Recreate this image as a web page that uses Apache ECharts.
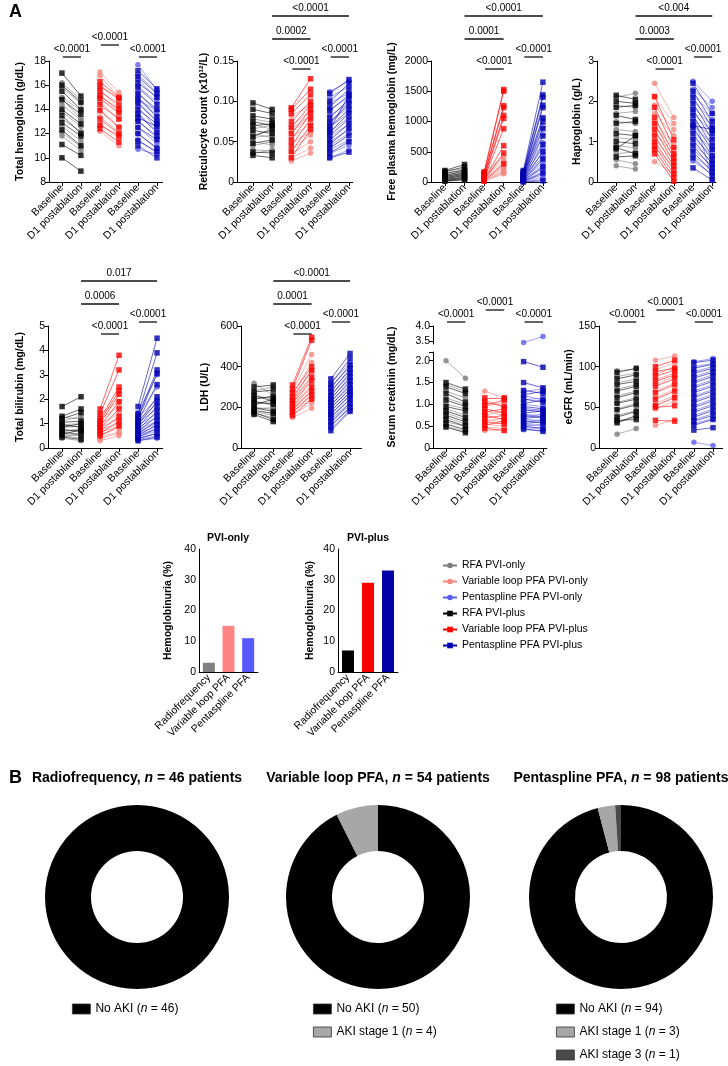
<!DOCTYPE html>
<html>
<head>
<meta charset="utf-8">
<script src="https://cdn.jsdelivr.net/npm/echarts@6/dist/echarts.min.js"></script>
<style>
  html, body { margin: 0; padding: 0; background: #fff; }
  #main { width: 728px; height: 1066px; }
</style>
</head>
<body>
<div id="main"></div>
<script>
// ---- data ----
const pairCats = ['Baseline', 'D1 postablation', 'Baseline', 'D1 postablation', 'Baseline', 'D1 postablation'];
const barCats = ['Radiofrequency', 'Variable loop PFA', 'Pentaspline PFA'];
const legendNames = ['RFA PVI-only', 'Variable loop PFA PVI-only', 'Pentaspline PFA PVI-only',
  'RFA PVI-plus', 'Variable loop PFA PVI-plus', 'Pentaspline PFA PVI-plus'];

// pairs are [baseline, D1 postablation]
const hgbRfaOnly = [[16.2,14.8],[15.8,14.5],[15.0,13.9],[14.4,13.1],[13.8,12.6],[13.2,12.2],[12.6,11.4],[12.1,10.9],[11.8,10.6],[14.9,13.2]];
const hgbRfaPlus = [[17.0,15.1],[16.0,14.6],[15.5,14.0],[14.8,13.6],[14.0,12.8],[13.5,12.0],[12.9,11.8],[12.3,11.0],[11.1,10.2],[10.0,8.9]];
const hgbVlOnly = [[17.1,15.4],[16.8,15.0],[16.0,14.8],[15.2,13.8],[14.6,13.2],[14.0,12.6],[13.4,12.1],[12.8,11.6],[12.2,11.0],[15.6,14.1]];
const hgbVlPlus = [[16.3,15.0],[15.9,14.9],[15.5,14.4],[14.9,13.7],[14.4,13.2],[13.9,12.5],[13.2,12.0],[12.7,11.8],[12.4,11.3],[15.1,14.0]];
const hgbPsOnly = [[17.7,15.6],[16.9,15.4],[16.5,14.9],[15.9,14.6],[15.4,13.8],[15.0,13.5],[14.6,13.1],[14.2,12.4],[13.7,12.2],[13.1,11.6],[12.5,11.2],[12.0,10.8],[11.5,10.4],[10.7,10.3],[14.8,13.9]];
const hgbPsPlus = [[17.2,15.7],[16.7,15.3],[16.2,15.0],[15.8,14.4],[15.3,14.0],[14.9,13.4],[14.5,13.0],[14.0,12.8],[13.6,12.1],[13.0,11.8],[12.5,11.5],[12.0,10.8],[11.4,10.5],[11.0,10.0],[13.3,12.6]];

const reticRfaOnly = [[0.072,0.065],[0.066,0.070],[0.060,0.055],[0.055,0.058],[0.050,0.046],[0.045,0.050],[0.040,0.038],[0.035,0.040],[0.078,0.074],[0.058,0.064]];
const reticRfaPlus = [[0.098,0.090],[0.090,0.085],[0.082,0.078],[0.075,0.070],[0.070,0.072],[0.064,0.060],[0.056,0.066],[0.048,0.052],[0.037,0.036],[0.033,0.030]];
const reticVlOnly = [[0.082,0.095],[0.070,0.088],[0.062,0.080],[0.055,0.072],[0.048,0.062],[0.040,0.058],[0.035,0.050],[0.030,0.042],[0.026,0.036],[0.066,0.082]];
const reticVlPlus = [[0.092,0.128],[0.090,0.115],[0.085,0.108],[0.075,0.100],[0.068,0.095],[0.060,0.090],[0.052,0.085],[0.045,0.078],[0.038,0.070],[0.030,0.065]];
const reticPsOnly = [[0.112,0.125],[0.105,0.118],[0.098,0.110],[0.090,0.105],[0.082,0.098],[0.075,0.092],[0.068,0.086],[0.062,0.080],[0.056,0.072],[0.050,0.065],[0.045,0.060],[0.040,0.052],[0.035,0.046],[0.030,0.040],[0.072,0.100]];
const reticPsPlus = [[0.110,0.127],[0.100,0.122],[0.093,0.115],[0.088,0.108],[0.080,0.102],[0.074,0.096],[0.068,0.090],[0.062,0.085],[0.058,0.078],[0.052,0.072],[0.047,0.066],[0.042,0.058],[0.036,0.050],[0.030,0.037],[0.065,0.108]];

const fphbRfaOnly = [[180,220],[150,190],[120,160],[100,140],[80,120],[60,100],[45,90],[30,70],[20,50],[10,35]];
const fphbRfaPlus = [[190,290],[170,250],[140,200],[110,180],[90,150],[70,130],[55,110],[40,80],[25,60],[15,40]];
const fphbVlOnly = [[160,420],[140,380],[120,330],[100,290],[80,250],[60,220],[45,190],[30,170],[20,150],[10,135]];
const fphbVlPlus = [[170,1530],[150,1500],[130,1260],[110,1230],[90,1100],[70,1050],[55,880],[40,600],[25,480],[15,300]];
const fphbPsOnly = [[180,1050],[160,900],[140,780],[120,650],[100,560],[85,480],[70,420],[60,380],[50,320],[40,270],[30,220],[20,170],[15,120],[10,80],[5,40]];
const fphbPsPlus = [[190,1650],[170,1440],[150,1400],[130,1270],[115,1230],[100,1060],[90,990],[75,880],[60,760],[50,620],[40,500],[30,380],[20,250],[10,150],[0,20]];

const haptoRfaOnly = [[2.10,2.20],[1.90,1.85],[1.70,1.75],[1.50,1.45],[1.30,1.25],[1.10,1.05],[0.90,0.85],[0.70,0.75],[0.55,0.45],[0.40,0.32]];
const haptoRfaPlus = [[2.15,2.05],[2.00,1.95],[1.85,1.90],[1.65,1.55],[1.45,1.50],[1.20,1.15],[1.00,0.95],[0.85,0.70],[0.82,1.15],[0.62,0.65]];
const haptoVlOnly = [[2.45,1.60],[2.10,1.45],[1.90,1.30],[1.70,1.15],[1.50,0.95],[1.35,0.85],[1.20,0.70],[1.05,0.55],[0.85,0.40],[0.50,0.20]];
const haptoVlPlus = [[2.12,1.05],[1.85,0.85],[1.60,0.70],[1.45,0.60],[1.30,0.50],[1.15,0.40],[1.00,0.30],[0.90,0.20],[0.80,0.10],[0.70,0.02]];
const haptoPsOnly = [[2.50,2.00],[2.30,1.85],[2.15,1.70],[2.00,1.55],[1.85,1.40],[1.70,1.25],[1.55,1.10],[1.40,0.95],[1.25,0.80],[1.10,0.65],[0.95,0.50],[0.80,0.40],[0.65,0.30],[0.52,0.20],[1.75,0.05]];
const haptoPsPlus = [[2.45,1.70],[2.25,1.50],[2.10,1.35],[1.95,1.20],[1.80,1.05],[1.65,0.90],[1.50,0.80],[1.35,0.65],[1.20,0.55],[1.05,0.45],[0.90,0.35],[0.75,0.25],[0.60,0.15],[0.35,0.05],[1.40,1.30]];

const biliRfaOnly = [[1.25,1.20],[1.10,1.30],[0.95,1.00],[0.85,0.90],[0.75,0.65],[0.65,0.80],[0.55,0.50],[0.50,0.40],[0.45,0.60],[0.40,0.30]];
const biliRfaPlus = [[1.70,2.10],[1.30,1.60],[1.20,1.45],[1.05,1.10],[0.95,0.85],[0.85,1.00],[0.75,0.70],[0.65,0.55],[0.55,0.75],[0.45,0.35]];
const biliVlOnly = [[1.40,1.90],[1.20,1.70],[1.00,1.40],[0.85,1.20],[0.75,1.00],[0.65,0.90],[0.55,0.80],[0.45,0.65],[0.40,0.60],[0.30,0.50]];
const biliVlPlus = [[1.60,3.80],[1.40,3.20],[1.20,2.50],[1.10,2.35],[1.00,2.20],[0.90,1.90],[0.80,1.60],[0.70,1.30],[0.60,1.10],[0.50,0.90]];
const biliPsOnly = [[1.45,3.00],[1.35,2.50],[1.25,2.00],[1.15,1.80],[1.05,1.60],[0.95,1.40],[0.85,1.25],[0.75,1.10],[0.68,1.00],[0.60,0.90],[0.52,0.80],[0.45,0.70],[0.40,0.60],[0.35,0.50],[0.30,0.40]];
const biliPsPlus = [[1.70,4.50],[1.40,3.90],[1.30,3.20],[1.20,3.05],[1.10,2.60],[1.00,2.10],[0.95,1.90],[0.85,1.70],[0.75,1.50],[0.68,1.30],[0.60,1.10],[0.52,0.95],[0.45,0.80],[0.38,0.60],[0.30,0.45]];

const ldhRfaOnly = [[318,260],[280,300],[260,240],[245,250],[230,210],[215,225],[200,190],[190,200],[180,160],[170,150]];
const ldhRfaPlus = [[300,310],[275,285],[258,230],[240,255],[228,215],[212,240],[198,180],[185,170],[175,140],[165,130]];
const ldhVlOnly = [[280,460],[260,420],[240,380],[225,340],[210,310],[200,280],[190,260],[180,240],[165,220],[150,195]];
const ldhVlPlus = [[310,545],[290,530],[270,400],[250,380],[235,350],[220,330],[205,300],[190,280],[175,260],[160,240]];
const ldhPsOnly = [[320,420],[300,400],[280,380],[260,360],[245,340],[230,320],[215,300],[200,290],[185,270],[170,255],[155,240],[140,225],[125,210],[110,195],[95,185]];
const ldhPsPlus = [[340,465],[315,440],[295,410],[275,390],[258,370],[240,350],[225,330],[210,310],[195,290],[180,275],[165,260],[150,240],[130,220],[110,200],[85,180]];

const creatRfaOnly = [[2.00,1.60],[1.45,1.30],[1.30,1.15],[1.15,1.00],[1.00,0.90],[0.90,0.75],[0.80,0.65],[0.70,0.55],[0.60,0.50],[0.50,0.38]];
const creatRfaPlus = [[1.50,1.35],[1.40,1.25],[1.25,1.05],[1.10,0.95],[0.95,0.85],[0.85,0.70],[0.75,0.60],[0.65,0.50],[0.55,0.42],[0.48,0.35]];
const creatVlOnly = [[1.30,1.15],[1.10,0.95],[0.95,1.05],[0.85,0.75],[0.75,0.85],[0.65,0.60],[0.60,0.70],[0.55,0.50],[0.48,0.45],[0.40,0.42]];
const creatVlPlus = [[1.15,1.15],[1.05,0.95],[0.98,1.10],[0.90,0.80],[0.82,0.90],[0.75,0.65],[0.68,0.75],[0.60,0.55],[0.52,0.62],[0.45,0.40]];
const creatPsOnly = [[3.45,3.65],[1.30,1.35],[1.20,1.10],[1.10,1.15],[1.00,0.95],[0.92,0.85],[0.85,0.90],[0.78,0.72],[0.72,0.78],[0.66,0.62],[0.60,0.65],[0.55,0.50],[0.50,0.55],[0.46,0.45],[0.42,0.40]];
const creatPsPlus = [[1.98,1.85],[1.50,1.38],[1.32,1.25],[1.22,1.30],[1.12,1.05],[1.02,1.10],[0.95,0.90],[0.88,0.82],[0.80,0.85],[0.74,0.70],[0.68,0.72],[0.62,0.58],[0.56,0.60],[0.50,0.45],[0.44,0.38]];

const egfrRfaOnly = [[95,97],[88,92],[80,85],[72,78],[64,70],[56,62],[48,55],[40,46],[32,38],[17,24]];
const egfrRfaPlus = [[93,98],[85,90],[78,82],[70,76],[62,68],[55,60],[47,53],[38,45],[31,40],[34,35]];
const egfrVlOnly = [[108,113],[96,105],[90,100],[84,92],[78,88],[70,80],[62,72],[55,64],[48,58],[28,35]];
const egfrVlPlus = [[100,108],[94,98],[88,96],[82,90],[76,85],[68,78],[60,70],[52,62],[50,52],[34,33]];
const egfrPsOnly = [[106,110],[100,104],[94,100],[88,95],[82,90],[76,84],[70,78],[64,72],[58,66],[52,60],[46,54],[40,48],[35,42],[30,36],[7,3]];
const egfrPsPlus = [[105,108],[98,103],[92,98],[86,93],[80,88],[74,82],[68,76],[62,70],[56,64],[50,58],[44,52],[38,46],[33,40],[28,35],[22,25]];

const hemoglobinuriaPviOnly = [3, 15, 11];
const hemoglobinuriaPviPlus = [7, 29, 33];

const akiStages = ['No AKI', 'AKI stage 1', 'AKI stage 3'];
const akiRf = [46];
const akiVl = [50, 4];
const akiPs = [94, 3, 1];
const donutGroups = ['Radiofrequency', 'Variable loop PFA', 'Pentaspline PFA'];

// [panel, from category, to category, label, tier]
const pValueNotes = [
  [0, 1, 2, '<0.0001', 0], [0, 3, 4, '<0.0001', 1], [0, 5, 6, '<0.0001', 0],
  [1, 2, 6, '<0.0001', 3], [1, 2, 4, '0.0002', 2], [1, 3, 4, '<0.0001', -1], [1, 5, 6, '<0.0001', 0],
  [2, 2, 6, '<0.0001', 3], [2, 2, 4, '0.0001', 2], [2, 3, 4, '<0.0001', -1], [2, 5, 6, '<0.0001', 0],
  [3, 2, 6, '<0.004', 3], [3, 2, 4, '0.0003', 2], [3, 3, 4, '<0.0001', -1], [3, 5, 6, '<0.0001', 0],
  [4, 2, 6, '0.017', 3], [4, 2, 4, '0.0006', 2], [4, 3, 4, '<0.0001', -1], [4, 5, 6, '<0.0001', 0],
  [5, 2, 6, '<0.0001', 3], [5, 2, 4, '0.0001', 2], [5, 3, 4, '<0.0001', -1], [5, 5, 6, '<0.0001', 0],
  [6, 1, 2, '<0.0001', 0], [6, 3, 4, '<0.0001', 1], [6, 5, 6, '<0.0001', 0],
  [7, 1, 2, '<0.0001', 0], [7, 3, 4, '<0.0001', 1], [7, 5, 6, '<0.0001', 0]
];

// ---- layout / styles ----
const FONT = "'Liberation Sans', Arial, sans-serif";
const groupStyle = [
  { color: '#7b7b7b', symbol: 'circle', x: 1 },
  { color: '#000000', symbol: 'rect', x: 1 },
  { color: '#f4877f', symbol: 'circle', x: 3 },
  { color: '#ff0000', symbol: 'rect', x: 3 },
  { color: '#5e5ef2', symbol: 'circle', x: 5 },
  { color: '#0000b0', symbol: 'rect', x: 5 }
];
const legendOrder = [0, 2, 4, 1, 3, 5];
const barColorsOnly = ['#808080', '#ff8484', '#5858ff'];
const barColorsPlus = ['#000000', '#ff0000', '#0000a6'];
const akiColors = ['#000000', '#a6a6a6', '#4a4a4a'];
const tierOffset = { '-1': -8, '0': 4, '1': 16, '2': 22, '3': 45 };

const panels = [
  { name: 'Total hemoglobin (g/dL)', sets: [hgbRfaOnly, hgbRfaPlus, hgbVlOnly, hgbVlPlus, hgbPsOnly, hgbPsPlus],
    min: 8, max: 18, step: 2, dec: 0, left: 49, top: 61, h: 121, x0: 0.32, x1: 6.3, px: 19, gap: 23, annoTop: 61 },
  { name: 'Reticulocyte count (x10¹²/L)', sets: [reticRfaOnly, reticRfaPlus, reticVlOnly, reticVlPlus, reticPsOnly, reticPsPlus],
    min: 0, max: 0.15, step: 0.05, dec: 2, left: 237, top: 61, h: 121, x0: 0.17, x1: 6.2, px: 19.2, gap: 23, annoTop: 61 },
  { name: 'Free plasma hemoglobin (mg/L)', sets: [fphbRfaOnly, fphbRfaPlus, fphbVlOnly, fphbVlPlus, fphbPsOnly, fphbPsPlus],
    min: 0, max: 2000, step: 500, dec: 0, left: 431, top: 61, h: 121, x0: 0.29, x1: 6.2, px: 19.6, gap: 33, annoTop: 61 },
  { name: 'Haptoglobin (g/L)', sets: [haptoRfaOnly, haptoRfaPlus, haptoVlOnly, haptoVlPlus, haptoPsOnly, haptoPsPlus],
    min: 0, max: 3, step: 1, dec: 0, left: 597, top: 61, h: 121, x0: 0, x1: 6.2, px: 19.2, gap: 14, annoTop: 61 },
  { name: 'Total bilirubin (mg/dL)', sets: [biliRfaOnly, biliRfaPlus, biliVlOnly, biliVlPlus, biliPsOnly, biliPsPlus],
    min: 0, max: 5, step: 1, dec: 0, left: 48, top: 326, h: 122, x0: 0.26, x1: 6.3, px: 19, gap: 22, annoTop: 326 },
  { name: 'LDH (U/L)', sets: [ldhRfaOnly, ldhRfaPlus, ldhVlOnly, ldhVlPlus, ldhPsOnly, ldhPsPlus],
    min: 0, max: 600, step: 200, dec: 0, left: 241, top: 326, h: 122, x0: 0.32, x1: 6.6, px: 19.2, gap: 30, annoTop: 326 },
  { name: '', sets: [creatRfaOnly, creatRfaPlus, creatVlOnly, creatVlPlus, creatPsOnly, creatPsPlus],
    min: 0, max: 2.2, ticks: [0, 0.5, 1, 1.5, 2, 2.2], labels: [0, 0.5, 1, 1.5, 2], dec: 1,
    left: 433, top: 352, h: 96, x0: 0.33, x1: 6.2, px: 19.4, gap: 0, annoTop: 326 },
  { name: 'eGFR (mL/min)', sets: [egfrRfaOnly, egfrRfaPlus, egfrVlOnly, egfrVlPlus, egfrPsOnly, egfrPsPlus],
    min: 0, max: 150, step: 50, dec: 0, left: 599, top: 326, h: 122, x0: 0.06, x1: 6.5, px: 19.2, gap: 21, annoTop: 326 }
];

function tickList(p) {
  if (p.ticks) return p.ticks;
  const out = [];
  for (let v = p.min; v <= p.max + 1e-9; v += p.step) out.push(Math.round(v * 1000) / 1000);
  return out;
}
function fmt(dec) {
  return (v) => (v === 0 || dec === 0) ? String(v) : v.toFixed(dec);
}
const axisLineStyle = { show: true, onZero: false, lineStyle: { color: '#000', width: 1 } };
const tickStyle = { color: '#000', width: 1 };

const grids = [], xAxes = [], yAxes = [], series = [];

function addGrid(g, x, y) {
  grids.push(Object.assign({ outerBoundsMode: 'none', containLabel: false }, g));
  xAxes.push(Object.assign({ gridIndex: grids.length - 1 }, x));
  yAxes.push(Object.assign({ gridIndex: grids.length - 1 }, y));
  return grids.length - 1;
}

function pairXAxis(p) {
  return {
    type: 'value', min: p.x0, max: p.x1, splitLine: { show: false },
    axisLine: axisLineStyle,
    axisTick: { customValues: [1, 2, 3, 4, 5, 6], length: 4, lineStyle: tickStyle },
    axisLabel: {
      customValues: [1, 2, 3, 4, 5, 6], rotate: 45, margin: 4, fontSize: 10.5, color: '#000', fontFamily: FONT,
      formatter: (v) => pairCats[Math.round(v) - 1]
    }
  };
}

function pairYAxis(p) {
  const ticks = tickList(p);
  return {
    type: 'value', min: p.min, max: p.max, splitLine: { show: false },
    name: p.name, nameLocation: 'middle', nameGap: p.gap,
    nameTextStyle: { fontWeight: 'bold', fontSize: 10.5, color: '#000', fontFamily: FONT },
    axisLine: axisLineStyle,
    axisTick: { customValues: ticks, length: 4, lineStyle: tickStyle },
    axisLabel: { customValues: p.labels || ticks, margin: 3, fontSize: 10.5, color: '#000', fontFamily: FONT, formatter: fmt(p.dec) }
  };
}

function addPairs(pairs, g, axis) {
  const st = groupStyle[g];
  if (!pairs.length) return;
  series.push({
    type: 'lines', coordinateSystem: 'cartesian2d', xAxisIndex: axis, yAxisIndex: axis,
    silent: true, z: 2, lineStyle: { color: st.color, width: 0.7, opacity: 0.85, curveness: 0 },
    data: pairs.map(([b, d]) => ({ coords: [[st.x, b], [st.x + 1, d]] }))
  });
  series.push({
    type: 'scatter', xAxisIndex: axis, yAxisIndex: axis, silent: true, z: 3,
    symbol: st.symbol, symbolSize: 5.5, itemStyle: { color: st.color },
    data: pairs.flatMap(([b, d]) => [[st.x, b], [st.x + 1, d]])
  });
}

// paired panels: grids 0..7
panels.forEach((p) => {
  p.grid = addGrid({ left: p.left, top: p.top, height: p.h, width: (p.x1 - p.x0) * p.px }, pairXAxis(p), pairYAxis(p));
});

// creatinine upper segment (broken axis) and a carrier for its axis name
const pc = panels[6];
const creatUpper = addGrid(
  { left: pc.left, top: 326, height: 18, width: (pc.x1 - pc.x0) * pc.px },
  { type: 'value', min: pc.x0, max: pc.x1, show: false },
  {
    type: 'value', min: 3.4, max: 4.0, splitLine: { show: false }, axisLine: axisLineStyle,
    axisTick: { customValues: [3.5, 4.0], length: 4, lineStyle: tickStyle },
    axisLabel: { customValues: [3.5, 4.0], margin: 3, fontSize: 10.5, color: '#000', fontFamily: FONT, formatter: fmt(1) }
  }
);
addGrid(
  { left: pc.left, top: 326, height: 122, width: (pc.x1 - pc.x0) * pc.px },
  { type: 'value', show: false },
  {
    type: 'value', name: 'Serum creatinin (mg/dL)', nameLocation: 'middle', nameGap: 35,
    nameTextStyle: { fontWeight: 'bold', fontSize: 10.5, color: '#000', fontFamily: FONT },
    axisLine: { show: false }, axisTick: { show: false }, axisLabel: { show: false }, splitLine: { show: false }
  }
);

panels.forEach((p, pi) => {
  p.sets.forEach((pairs, g) => {
    if (pi === 6) {
      addPairs(pairs.filter(([b, d]) => b <= 2.5 && d <= 2.5), g, p.grid);
      addPairs(pairs.filter(([b, d]) => b > 2.5 && d > 2.5), g, creatUpper);
    } else {
      addPairs(pairs, g, p.grid);
    }
  });
});

// hemoglobinuria bars
function barGrid(left, width, gap) {
  return addGrid(
    { left: left, top: 549, height: 123, width: width },
    {
      type: 'category', data: barCats, axisLine: axisLineStyle,
      axisTick: { alignWithLabel: true, length: 4, lineStyle: tickStyle },
      axisLabel: { interval: 0, rotate: 45, margin: 4, fontSize: 10.5, color: '#000', fontFamily: FONT }
    },
    {
      type: 'value', min: 0, max: 40, interval: 10, splitLine: { show: false },
      name: 'Hemoglobinuria (%)', nameLocation: 'middle', nameGap: gap,
      nameTextStyle: { fontWeight: 'bold', fontSize: 10.5, color: '#000', fontFamily: FONT },
      axisLine: axisLineStyle, axisTick: { length: 4, lineStyle: tickStyle },
      axisLabel: { margin: 3, fontSize: 10.5, color: '#000', fontFamily: FONT }
    }
  );
}
const barOnly = barGrid(199, 59, 25);
const barPlus = barGrid(338, 60, 22);
series.push({
  type: 'bar', xAxisIndex: barOnly, yAxisIndex: barOnly, barWidth: 12, silent: true,
  data: hemoglobinuriaPviOnly.map((v, i) => ({ value: v, itemStyle: { color: barColorsOnly[i] } }))
});
series.push({
  type: 'bar', xAxisIndex: barPlus, yAxisIndex: barPlus, barWidth: 12, silent: true,
  data: hemoglobinuriaPviPlus.map((v, i) => ({ value: v, itemStyle: { color: barColorsPlus[i] } }))
});

// legend carriers
legendNames.forEach((nm, i) => {
  const st = groupStyle[legendOrder[i]];
  series.push({
    type: 'line', name: nm, xAxisIndex: barOnly, yAxisIndex: barOnly, data: [],
    symbol: st.symbol, symbolSize: 5, itemStyle: { color: st.color }, lineStyle: { color: st.color, width: 1.2 }
  });
});

// AKI donuts
const donutSets = [akiRf, akiVl, akiPs];
const donutCenters = [137, 378, 621];
const donutY = 897;
const pieLegends = [];
donutSets.forEach((vals, k) => {
  const data = vals.map((v, i) => ({ name: akiStages[i] + ' (n = ' + v + ')', value: v, itemStyle: { color: akiColors[i] } }));
  series.push({
    type: 'pie', center: [donutCenters[k], donutY], radius: [46, 92], startAngle: 90, clockwise: true,
    silent: true, label: { show: false }, labelLine: { show: false }, data: data
  });
  pieLegends.push({
    data: data.map((d) => d.name), orient: 'vertical', left: donutCenters[k] - 70, top: 998,
    icon: 'rect', itemWidth: 18, itemHeight: 10, itemGap: 11, selectedMode: false,
    itemStyle: { borderColor: '#333', borderWidth: 0.8 },
    formatter: (name) => name.replace('(n =', '({it|n} ='),
    textStyle: { fontSize: 12, color: '#000', fontFamily: FONT, rich: { it: { fontStyle: 'italic', fontSize: 12, fontFamily: FONT, color: '#000' } } }
  });
});

const chart = echarts.init(document.getElementById('main'), null, { renderer: 'canvas' });
chart.setOption({
  animation: false,
  backgroundColor: '#fff',
  textStyle: { fontFamily: FONT },
  grid: grids,
  xAxis: xAxes,
  yAxis: yAxes,
  legend: [{
    data: legendNames, orient: 'vertical', left: 437, top: 555, itemWidth: 14, itemHeight: 7, itemGap: 5,
    selectedMode: false, textStyle: { fontSize: 10.5, color: '#000', fontFamily: FONT }
  }].concat(pieLegends),
  series: series
});

// text, headings and p-value brackets
const graphics = [
  { type: 'text', x: 9, y: 12, style: { text: 'A', fontSize: 18, fontWeight: 'bold', fontFamily: FONT, fill: '#000', textVerticalAlign: 'middle' } },
  { type: 'text', x: 9, y: 778, style: { text: 'B', fontSize: 18, fontWeight: 'bold', fontFamily: FONT, fill: '#000', textVerticalAlign: 'middle' } },
  { type: 'text', x: 228, y: 538, style: { text: 'PVI-only', fontSize: 10.5, fontWeight: 'bold', fontFamily: FONT, fill: '#000', textAlign: 'center', textVerticalAlign: 'middle' } },
  { type: 'text', x: 368, y: 538, style: { text: 'PVI-plus', fontSize: 10.5, fontWeight: 'bold', fontFamily: FONT, fill: '#000', textAlign: 'center', textVerticalAlign: 'middle' } }
];
donutSets.forEach((vals, k) => {
  const n = vals.reduce((a, b) => a + b, 0);
  graphics.push({
    type: 'text', x: donutCenters[k], y: 778,
    style: {
      text: donutGroups[k] + ', {it|n} = ' + n + ' patients',
      fontSize: 14, fontWeight: 'bold', fontFamily: FONT, fill: '#000',
      textAlign: 'center', textVerticalAlign: 'middle',
      rich: { it: { fontStyle: 'italic', fontWeight: 'bold', fontSize: 14, fontFamily: FONT, fill: '#000' } }
    }
  });
});
pValueNotes.forEach(([pi, c1, c2, label, tier]) => {
  const p = panels[pi];
  const a = c2 - c1 === 1 ? c1 + 0.05 : c1;
  const xa = chart.convertToPixel({ xAxisIndex: p.grid }, a);
  const xb = chart.convertToPixel({ xAxisIndex: p.grid }, c2);
  const y = p.annoTop - tierOffset[String(tier)];
  graphics.push({ type: 'line', shape: { x1: xa, y1: y, x2: xb, y2: y }, style: { stroke: '#111', lineWidth: 1.3 }, silent: true });
  graphics.push({
    type: 'text', x: (xa + xb) / 2, y: y - 3, silent: true,
    style: { text: label, fontSize: 10, fontFamily: FONT, fill: '#000', textAlign: 'center', textVerticalAlign: 'bottom' }
  });
});
chart.setOption({ graphic: graphics });
</script>
</body>
</html>
